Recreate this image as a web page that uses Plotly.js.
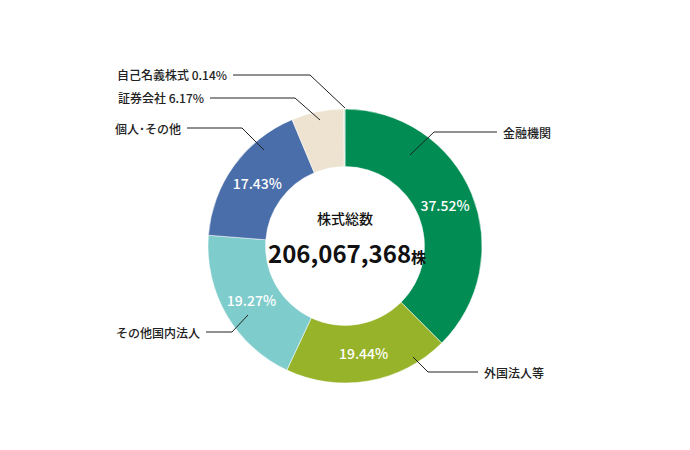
<!DOCTYPE html>
<html>
<head>
<meta charset="utf-8">
<script src="https://cdn.plot.ly/plotly-3.0.1.min.js"></script>
<style>
  body { margin: 0; background: #fff; }
  #chart { width: 690px; height: 450px; }
</style>
</head>
<body>
<div id="chart"></div>
<script>
// Data
const categories = ["金融機関", "外国法人等", "その他国内法人", "個人・その他", "証券会社", "自己名義株式"];
const shares = [37.52, 19.44, 19.27, 17.43, 6.17, 0.14];
const sliceColors = ["#008c52", "#96b32a", "#7fcccc", "#4a6ea9", "#ede3d0", "#b9e0cf"];
const outsideLabels = ["金融機関", "外国法人等", "その他国内法人", "個人･その他", "証券会社 6.17%", "自己名義株式 0.14%"];
const totalShares = "206,067,368";

const W = 690, H = 450;
const FONT = '"Noto Sans CJK JP", "Noto Sans", sans-serif';

// pixel -> paper (margins are 0)
function px(x, y) { return [x / W, 1 - y / H]; }

// donut placement
const cx = 345, cy = 246, R = 137;

// leader lines: [label pos, elbow, end in slice], label anchor
const leaders = [
  { pts: [[497, 132], [434, 132], [410, 155]], anchor: "left" },
  { pts: [[478, 372], [428, 372], [413, 357]], anchor: "left" },
  { pts: [[206, 332], [232, 332], [248, 315]], anchor: "right" },
  { pts: [[187, 128], [242, 128], [264, 150]], anchor: "right" },
  { pts: [[210, 98], [295, 98], [320, 120]], anchor: "right" },
  { pts: [[233, 75], [310, 75], [345, 108]], anchor: "right" }
];

const shapes = leaders.map(l => {
  const p = l.pts.map(q => px(q[0], q[1]));
  return {
    type: "path", xref: "paper", yref: "paper",
    path: "M" + p.map(q => q[0] + "," + q[1]).join(" L"),
    line: { color: "#222", width: 1 }
  };
});

const annotations = leaders.map((l, i) => {
  const start = l.pts[0];
  const p = px(start[0] + (l.anchor === "left" ? 4 : -4), start[1]);
  return {
    x: p[0], y: p[1], xref: "paper", yref: "paper",
    text: outsideLabels[i], showarrow: false,
    xanchor: l.anchor, yanchor: "middle",
    font: { family: FONT, size: 12, color: "#222", weight: 500 }
  };
});

let c1 = px(cx, 218);
annotations.push({
  x: c1[0], y: c1[1], xref: "paper", yref: "paper", showarrow: false,
  text: "株式総数", font: { family: FONT, size: 14, color: "#111", weight: 500 }
});
let c2 = px(cx + 2, 253);
annotations.push({
  x: c2[0], y: c2[1], xref: "paper", yref: "paper", showarrow: false,
  text: totalShares + '<span style="font-size:15px">株</span>',
  font: { family: FONT, size: 24, color: "#111", weight: 600 }
});

const trace = {
  type: "pie",
  labels: categories,
  values: shares,
  sort: false,
  direction: "clockwise",
  rotation: 0,
  hole: 0.58,
  marker: { colors: sliceColors, line: { color: "#fff", width: 0.5 } },
  text: shares.map(v => v.toFixed(2) + "%"),
  texttemplate: shares.map(v => v > 10 ? "%{text}" : ""),
  textinfo: "text",
  textposition: "inside",
  insidetextorientation: "horizontal",
  insidetextfont: { family: FONT, size: 14, color: "#fff", weight: 500 },
  domain: { x: [(cx - R) / W, (cx + R) / W], y: [(H - cy - R) / H, (H - cy + R) / H] },
  hoverinfo: "label+value"
};

const layout = {
  width: W, height: H,
  margin: { l: 0, r: 0, t: 0, b: 0 },
  paper_bgcolor: "#fff",
  showlegend: false,
  shapes: shapes,
  annotations: annotations
};

Plotly.newPlot("chart", [trace], layout, { displayModeBar: false, staticPlot: true });
</script>
</body>
</html>
